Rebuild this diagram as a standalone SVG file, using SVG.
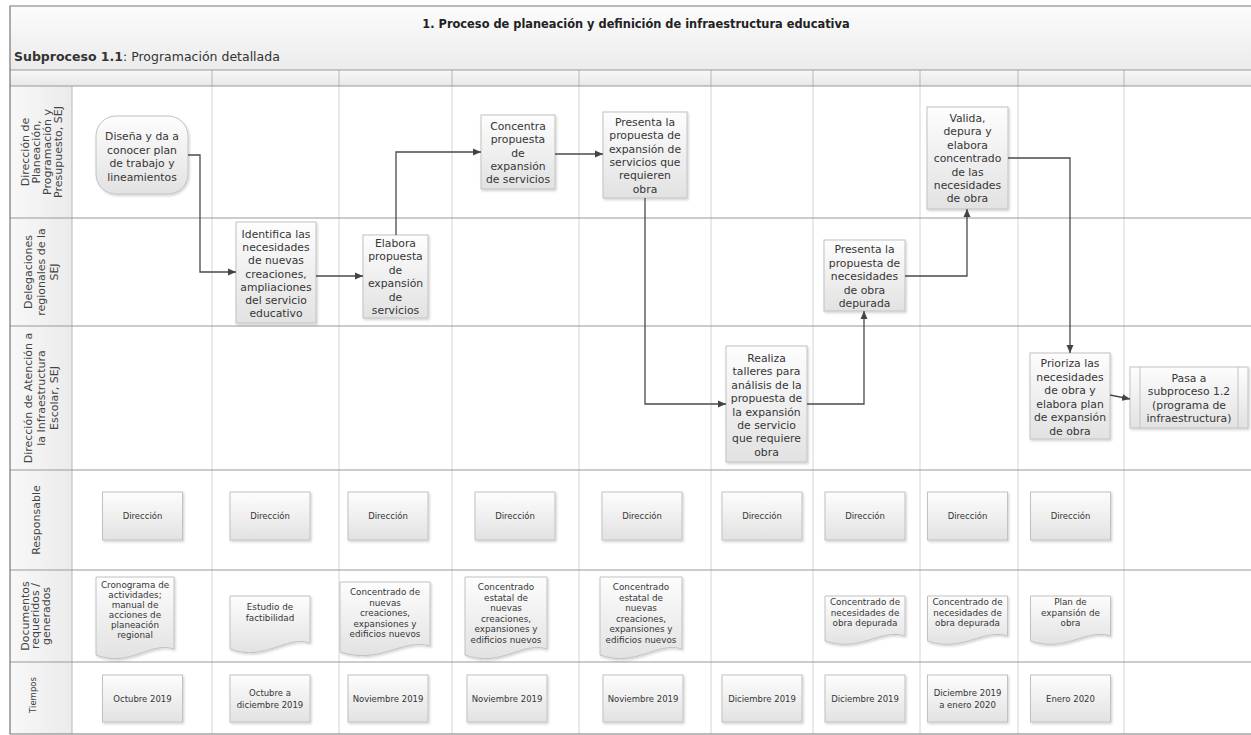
<svg xmlns="http://www.w3.org/2000/svg" width="1251" height="735" viewBox="0 0 1251 735">
  <defs>
    <linearGradient id="band" x1="0" y1="0" x2="0" y2="1">
      <stop offset="0" stop-color="#fcfcfc"/>
      <stop offset="1" stop-color="#ebebeb"/>
    </linearGradient>
    <linearGradient id="hdr" x1="0" y1="0" x2="0" y2="1">
      <stop offset="0" stop-color="#f8f8f8"/>
      <stop offset="1" stop-color="#e8e8e8"/>
    </linearGradient>
    <linearGradient id="lbl" x1="0" y1="0" x2="1" y2="0">
      <stop offset="0" stop-color="#f8f8f8"/>
      <stop offset="1" stop-color="#ebebeb"/>
    </linearGradient>
    <linearGradient id="box" x1="0" y1="0" x2="0" y2="1">
      <stop offset="0" stop-color="#fdfdfd"/>
      <stop offset="1" stop-color="#e2e2e2"/>
    </linearGradient>
    <filter id="shadow" x="-10%" y="-10%" width="130%" height="130%">
      <feDropShadow dx="1.2" dy="1.5" stdDeviation="1" flood-color="#000" flood-opacity="0.18"/>
    </filter>
    <marker id="arr" markerUnits="userSpaceOnUse" markerWidth="9" markerHeight="8" refX="8" refY="4" orient="auto">
      <path d="M0,0.5 L8,4 L0,7.5 Z" fill="#444"/>
    </marker>
  </defs>
  <style>
    text { font-family: "DejaVu Sans", "Liberation Sans", sans-serif; fill: #363636; }
    .ttl { font-size: 11.4px; font-weight: bold; text-anchor: middle; fill: #222; }
    .sub { font-size: 12.5px; fill: #333; }
    .sub .b { font-weight: bold; }
    .lane { font-size: 11px; text-anchor: middle; fill: #444; }
    .t { font-size: 10.8px; text-anchor: middle; }
    .s { font-size: 8.5px; text-anchor: middle; }
    .d { font-size: 8.8px; text-anchor: middle; }
    .bx { fill: url(#box); stroke: #c2c2c2; stroke-width: 1; filter: url(#shadow); }
    .inner { fill: none; stroke: #c2c2c2; stroke-width: 1; }
    .hl { stroke: #999; stroke-width: 1; }
    .cl { stroke: #d4d4d4; stroke-width: 1; }
    .chl { stroke: #b8b8b8; stroke-width: 1; }
    #connectors path { fill: none; stroke: #4a4a4a; stroke-width: 1.3; marker-end: url(#arr); }
  </style>

  <!-- swimlane frame -->
  <g id="frame">
    <rect x="0" y="0" width="1251" height="735" fill="#fff"/>
    <rect x="10" y="6" width="1245" height="64" fill="url(#band)"/>
    <rect x="10" y="70" width="1245" height="16" fill="url(#hdr)"/>
    <rect x="10" y="86" width="62" height="648" fill="url(#lbl)"/>
    <!-- column separators -->
    <g class="cl">
      <line x1="212" y1="86" x2="212" y2="734"/>
      <line x1="339" y1="86" x2="339" y2="734"/>
      <line x1="452" y1="86" x2="452" y2="734"/>
      <line x1="579" y1="86" x2="579" y2="734"/>
      <line x1="711" y1="86" x2="711" y2="734"/>
      <line x1="813" y1="86" x2="813" y2="734"/>
      <line x1="920" y1="86" x2="920" y2="734"/>
      <line x1="1018" y1="86" x2="1018" y2="734"/>
      <line x1="1124" y1="86" x2="1124" y2="734"/>
    </g>
    <g class="chl">
      <line x1="212" y1="70" x2="212" y2="86"/>
      <line x1="339" y1="70" x2="339" y2="86"/>
      <line x1="452" y1="70" x2="452" y2="86"/>
      <line x1="579" y1="70" x2="579" y2="86"/>
      <line x1="711" y1="70" x2="711" y2="86"/>
      <line x1="813" y1="70" x2="813" y2="86"/>
      <line x1="920" y1="70" x2="920" y2="86"/>
      <line x1="1018" y1="70" x2="1018" y2="86"/>
      <line x1="1124" y1="70" x2="1124" y2="86"/>
      <line x1="72" y1="86" x2="72" y2="734"/>
    </g>
    <!-- lane separators -->
    <g class="hl">
      <line x1="10" y1="70" x2="1251" y2="70"/>
      <line x1="10" y1="86" x2="1251" y2="86"/>
      <line x1="10" y1="218" x2="1251" y2="218"/>
      <line x1="10" y1="326" x2="1251" y2="326"/>
      <line x1="10" y1="470" x2="1251" y2="470"/>
      <line x1="10" y1="570" x2="1251" y2="570"/>
      <line x1="10" y1="662" x2="1251" y2="662"/>
    </g>
    <path d="M1251,6 H10 V734 H1251" fill="none" stroke="#777" stroke-width="1.2"/>
    <text class="ttl" x="636" y="28">1. Proceso de planeación y definición de infraestructura educativa</text>
    <text class="sub" x="14" y="61"><tspan class="b">Subproceso 1.1</tspan>: Programación detallada</text>
  </g>

  <!-- lane titles -->
  <g id="lane-labels">
    <text class="lane" transform="translate(41,152) rotate(-90)"><tspan x="0" y="-12.5">Dirección de</tspan><tspan x="0" y="-1.5">Planeación,</tspan><tspan x="0" y="9.5">Programación y</tspan><tspan x="0" y="20.5">Presupuesto, SEJ</tspan></text>
    <text class="lane" transform="translate(41,272) rotate(-90)"><tspan x="0" y="-9">Delegaciones</tspan><tspan x="0" y="4">regionales de la</tspan><tspan x="0" y="17">SEJ</tspan></text>
    <text class="lane" transform="translate(41,398) rotate(-90)"><tspan x="0" y="-9">Dirección de Atención a</tspan><tspan x="0" y="4">la Infraestructura</tspan><tspan x="0" y="17">Escolar, SEJ</tspan></text>
    <text class="lane" transform="translate(36,520) rotate(-90)"><tspan x="0" y="4">Responsable</tspan></text>
    <text class="lane" transform="translate(35,616) rotate(-90)"><tspan x="0" y="-6.5">Documentos</tspan><tspan x="0" y="4">requeridos /</tspan><tspan x="0" y="14.5">generados</tspan></text>
    <text class="lane" style="font-size:8.5px" transform="translate(33,695) rotate(-90)"><tspan x="0" y="3">Tiempos</tspan></text>
  </g>

  <!-- process steps -->
  <g id="n1">
    <rect class="bx" x="96" y="116" width="92" height="78" rx="20" ry="20"/>
    <text class="t"><tspan x="142" y="140">Diseña y da a</tspan><tspan x="142" y="153.5">conocer plan</tspan><tspan x="142" y="167">de trabajo y</tspan><tspan x="142" y="180.5">lineamientos</tspan></text>
  </g>
  <g id="n2">
    <rect class="bx" x="236" y="222" width="80" height="101"/>
    <text class="t"><tspan x="276" y="238">Identifica las</tspan><tspan x="276" y="251.2">necesidades</tspan><tspan x="276" y="264.4">de nuevas</tspan><tspan x="276" y="277.6">creaciones,</tspan><tspan x="276" y="290.8">ampliaciones</tspan><tspan x="276" y="304">del servicio</tspan><tspan x="276" y="317.2">educativo</tspan></text>
  </g>
  <g id="n3">
    <rect class="bx" x="363" y="235" width="65" height="83"/>
    <text class="t"><tspan x="395.5" y="247">Elabora</tspan><tspan x="395.5" y="260.4">propuesta</tspan><tspan x="395.5" y="273.8">de</tspan><tspan x="395.5" y="287.2">expansión</tspan><tspan x="395.5" y="300.6">de</tspan><tspan x="395.5" y="314">servicios</tspan></text>
  </g>
  <g id="n4">
    <rect class="bx" x="481" y="115" width="74" height="74"/>
    <text class="t"><tspan x="518" y="130">Concentra</tspan><tspan x="518" y="143.3">propuesta</tspan><tspan x="518" y="156.6">de</tspan><tspan x="518" y="169.9">expansión</tspan><tspan x="518" y="183.2">de servicios</tspan></text>
  </g>
  <g id="n5">
    <rect class="bx" x="603" y="112" width="84" height="86"/>
    <text class="t"><tspan x="645" y="126">Presenta la</tspan><tspan x="645" y="139.3">propuesta de</tspan><tspan x="645" y="152.6">expansión de</tspan><tspan x="645" y="165.9">servicios que</tspan><tspan x="645" y="179.2">requieren</tspan><tspan x="645" y="192.5">obra</tspan></text>
  </g>
  <g id="n6">
    <rect class="bx" x="726" y="346" width="81" height="116"/>
    <text class="t"><tspan x="766.5" y="362">Realiza</tspan><tspan x="766.5" y="375.4">talleres para</tspan><tspan x="766.5" y="388.8">análisis de la</tspan><tspan x="766.5" y="402.2">propuesta de</tspan><tspan x="766.5" y="415.6">la expansión</tspan><tspan x="766.5" y="429">de servicio</tspan><tspan x="766.5" y="442.4">que requiere</tspan><tspan x="766.5" y="455.8">obra</tspan></text>
  </g>
  <g id="n7">
    <rect class="bx" x="824" y="240" width="81" height="71"/>
    <text class="t"><tspan x="864.5" y="253">Presenta la</tspan><tspan x="864.5" y="266.5">propuesta de</tspan><tspan x="864.5" y="280">necesidades</tspan><tspan x="864.5" y="293.5">de obra</tspan><tspan x="864.5" y="307">depurada</tspan></text>
  </g>
  <g id="n8">
    <rect class="bx" x="927" y="107" width="81" height="102"/>
    <text class="t"><tspan x="967.5" y="122">Valida,</tspan><tspan x="967.5" y="135.4">depura y</tspan><tspan x="967.5" y="148.8">elabora</tspan><tspan x="967.5" y="162.2">concentrado</tspan><tspan x="967.5" y="175.6">de las</tspan><tspan x="967.5" y="189">necesidades</tspan><tspan x="967.5" y="202.4">de obra</tspan></text>
  </g>
  <g id="n9">
    <rect class="bx" x="1030" y="353" width="80" height="86"/>
    <text class="t"><tspan x="1070" y="367">Prioriza las</tspan><tspan x="1070" y="380.5">necesidades</tspan><tspan x="1070" y="394">de obra y</tspan><tspan x="1070" y="407.5">elabora plan</tspan><tspan x="1070" y="421">de expansión</tspan><tspan x="1070" y="434.5">de obra</tspan></text>
  </g>
  <g id="n10">
    <rect class="bx" x="1130" y="367" width="118" height="61"/>
    <line class="inner" x1="1140" y1="367" x2="1140" y2="428"/>
    <line class="inner" x1="1238" y1="367" x2="1238" y2="428"/>
    <text class="t"><tspan x="1189" y="382">Pasa a</tspan><tspan x="1189" y="395.4">subproceso 1.2</tspan><tspan x="1189" y="408.8">(programa de</tspan><tspan x="1189" y="422.2">infraestructura)</tspan></text>
  </g>

  <!-- flow connectors -->
  <g id="connectors">
    <path d="M188,155 H200 V272 H236"/>
    <path d="M316,276 H363"/>
    <path d="M396,235 V152 H481"/>
    <path d="M555,154 H603"/>
    <path d="M645,198 V404 H726"/>
    <path d="M807,404 H864 V311"/>
    <path d="M905,276 H967 V209"/>
    <path d="M1008,158 H1070 V353"/>
    <path d="M1110,395 L1130,399"/>
  </g>

  <!-- responsible row -->
  <g id="resp-1"><rect class="bx" x="102.5" y="492" width="80" height="48"/><text class="s" x="142.5" y="519">Dirección</text></g>
  <g id="resp-2"><rect class="bx" x="230" y="492" width="80" height="48"/><text class="s" x="270" y="519">Dirección</text></g>
  <g id="resp-3"><rect class="bx" x="348" y="492" width="80" height="48"/><text class="s" x="388" y="519">Dirección</text></g>
  <g id="resp-4"><rect class="bx" x="475" y="492" width="80" height="48"/><text class="s" x="515" y="519">Dirección</text></g>
  <g id="resp-5"><rect class="bx" x="602" y="492" width="80" height="48"/><text class="s" x="642" y="519">Dirección</text></g>
  <g id="resp-6"><rect class="bx" x="722" y="492" width="80" height="48"/><text class="s" x="762" y="519">Dirección</text></g>
  <g id="resp-7"><rect class="bx" x="825" y="492" width="80" height="48"/><text class="s" x="865" y="519">Dirección</text></g>
  <g id="resp-8"><rect class="bx" x="927.5" y="492" width="80" height="48"/><text class="s" x="967.5" y="519">Dirección</text></g>
  <g id="resp-9"><rect class="bx" x="1030.5" y="492" width="80" height="48"/><text class="s" x="1070.5" y="519">Dirección</text></g>

  <!-- documents row -->
  <g id="doc-1">
    <path class="bx" d="M96,577 H174 V649 C150,641 130,668 96,655 Z"/>
    <text class="d"><tspan x="135" y="588">Cronograma de</tspan><tspan x="135" y="598">actividades;</tspan><tspan x="135" y="608">manual de</tspan><tspan x="135" y="618">acciones de</tspan><tspan x="135" y="628">planeación</tspan><tspan x="135" y="638">regional</tspan></text>
  </g>
  <g id="doc-2">
    <path class="bx" d="M230,596 H310 V643 C286,635 265,662 230,649 Z"/>
    <text class="d"><tspan x="270" y="610">Estudio de</tspan><tspan x="270" y="621">factibilidad</tspan></text>
  </g>
  <g id="doc-3">
    <path class="bx" d="M340,582 H430 V646 C402,638 380,665 340,652 Z"/>
    <text class="d"><tspan x="385" y="595">Concentrado de</tspan><tspan x="385" y="605.5">nuevas</tspan><tspan x="385" y="616">creaciones,</tspan><tspan x="385" y="626.5">expansiones y</tspan><tspan x="385" y="637">edificios nuevos</tspan></text>
  </g>
  <g id="doc-4">
    <path class="bx" d="M465,577 H547 V649 C522,641 501,668 465,655 Z"/>
    <text class="d"><tspan x="506" y="590">Concentrado</tspan><tspan x="506" y="600.6">estatal de</tspan><tspan x="506" y="611.2">nuevas</tspan><tspan x="506" y="621.8">creaciones,</tspan><tspan x="506" y="632.4">expansiones y</tspan><tspan x="506" y="643">edificios nuevos</tspan></text>
  </g>
  <g id="doc-5">
    <path class="bx" d="M600,577 H682 V649 C657,641 636,668 600,655 Z"/>
    <text class="d"><tspan x="641" y="590">Concentrado</tspan><tspan x="641" y="600.6">estatal de</tspan><tspan x="641" y="611.2">nuevas</tspan><tspan x="641" y="621.8">creaciones,</tspan><tspan x="641" y="632.4">expansiones y</tspan><tspan x="641" y="643">edificios nuevos</tspan></text>
  </g>
  <g id="doc-7">
    <path class="bx" d="M825,596 H905 V636 C881,628 860,653 825,641 Z"/>
    <text class="d"><tspan x="865" y="605">Concentrado de</tspan><tspan x="865" y="615.7">necesidades de</tspan><tspan x="865" y="626.4">obra depurada</tspan></text>
  </g>
  <g id="doc-8">
    <path class="bx" d="M927.5,596 H1007.5 V636 C983.5,628 962.5,653 927.5,641 Z"/>
    <text class="d"><tspan x="967.5" y="605">Concentrado de</tspan><tspan x="967.5" y="615.7">necesidades de</tspan><tspan x="967.5" y="626.4">obra depurada</tspan></text>
  </g>
  <g id="doc-9">
    <path class="bx" d="M1030.5,596 H1110.5 V636 C1086.5,628 1065.5,653 1030.5,641 Z"/>
    <text class="d"><tspan x="1070.5" y="605">Plan de</tspan><tspan x="1070.5" y="615.7">expansión de</tspan><tspan x="1070.5" y="626.4">obra</tspan></text>
  </g>

  <!-- timing row -->
  <g id="time-1"><rect class="bx" x="102.5" y="675" width="80" height="47"/><text class="s" x="142.5" y="702">Octubre 2019</text></g>
  <g id="time-2"><rect class="bx" x="230" y="675" width="80" height="47"/><text class="s"><tspan x="270" y="696">Octubre a</tspan><tspan x="270" y="708">diciembre 2019</tspan></text></g>
  <g id="time-3"><rect class="bx" x="348" y="675" width="80" height="47"/><text class="s" x="388" y="702">Noviembre 2019</text></g>
  <g id="time-4"><rect class="bx" x="467" y="675" width="80" height="47"/><text class="s" x="507" y="702">Noviembre 2019</text></g>
  <g id="time-5"><rect class="bx" x="603" y="675" width="80" height="47"/><text class="s" x="643" y="702">Noviembre 2019</text></g>
  <g id="time-6"><rect class="bx" x="722" y="675" width="80" height="47"/><text class="s" x="762" y="702">Diciembre 2019</text></g>
  <g id="time-7"><rect class="bx" x="825" y="675" width="80" height="47"/><text class="s" x="865" y="702">Diciembre 2019</text></g>
  <g id="time-8"><rect class="bx" x="927.5" y="675" width="80" height="47"/><text class="s"><tspan x="967.5" y="696">Diciembre 2019</tspan><tspan x="967.5" y="708">a enero 2020</tspan></text></g>
  <g id="time-9"><rect class="bx" x="1030.5" y="675" width="80" height="47"/><text class="s" x="1070.5" y="702">Enero 2020</text></g>
</svg>
